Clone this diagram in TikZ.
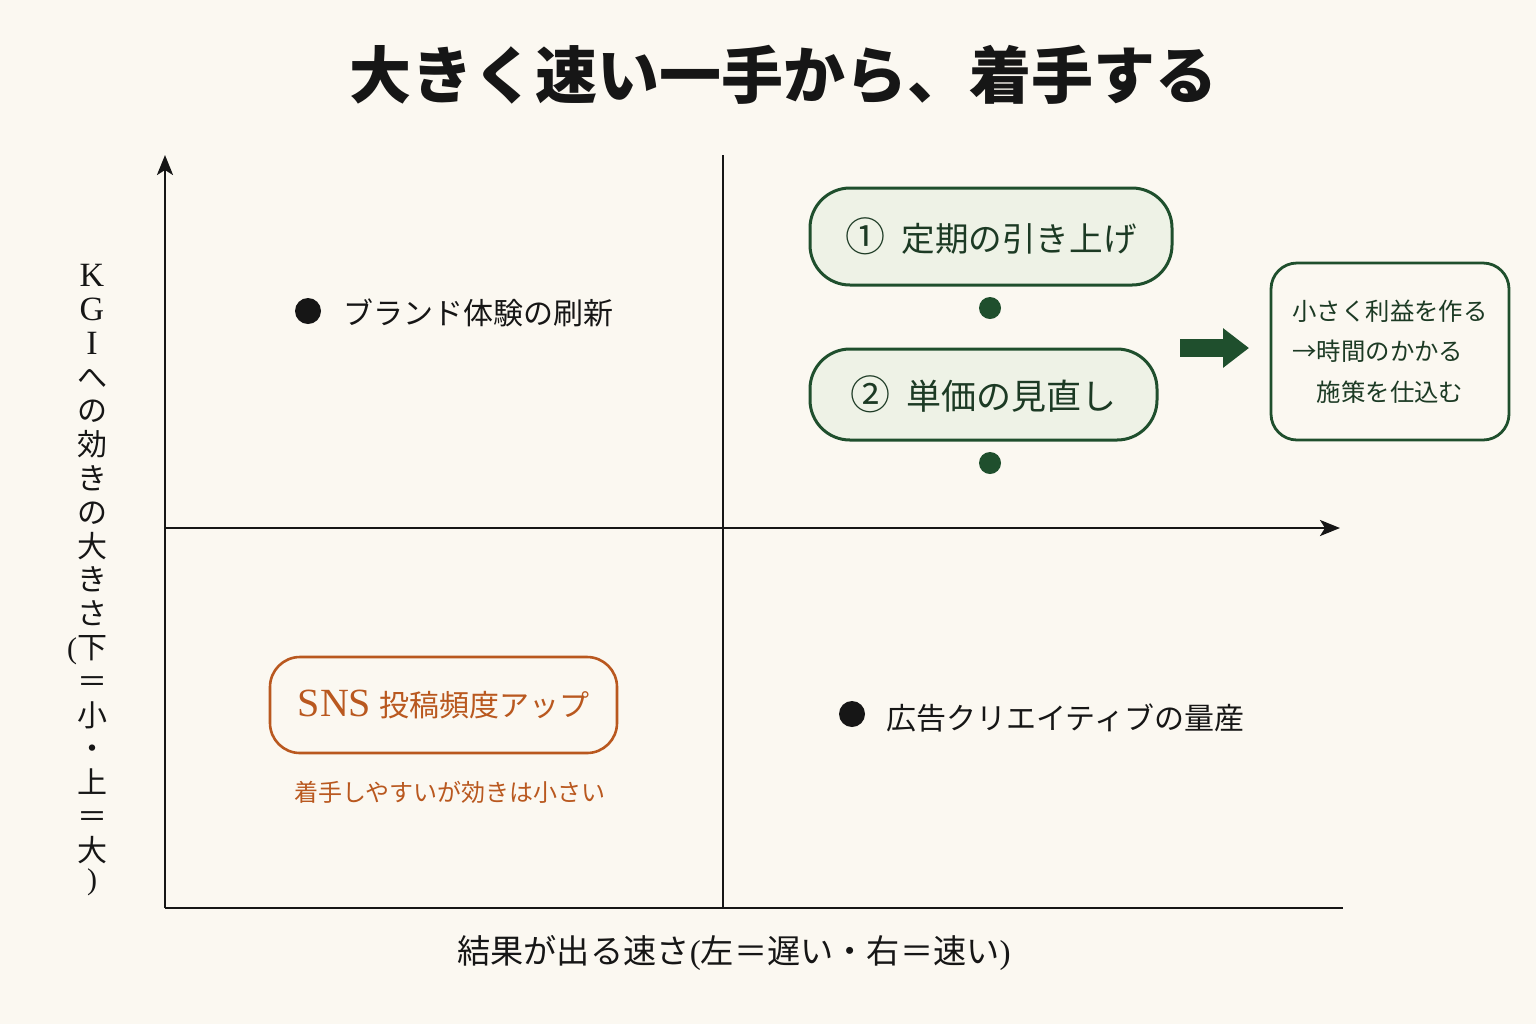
\documentclass[tikz,border=0pt]{standalone}
\usepackage{fontspec}
\setmainfont{Liberation Serif}
\newfontfamily\jp{Noto Sans CJK JP}
\usetikzlibrary{arrows.meta}
\definecolor{bg}{HTML}{FBF8F1}
\definecolor{dgreen}{HTML}{1F4F2D}
\definecolor{gtext}{HTML}{1C3A24}
\definecolor{lgreen}{HTML}{EEF2E6}
\definecolor{orng}{HTML}{B9581F}
\definecolor{ink}{HTML}{161616}
\newcommand{\latK}[1]{{\rmfamily\fontsize{17}{16.9}\selectfont #1}}
\tikzset{
  axis/.style={draw=ink, line width=1.3pt},
  axarrow/.style={-{Stealth[length=10pt,width=8pt,inset=2.5pt]}},
  blackdot/.style={circle, fill=ink, inner sep=0pt, minimum size=13pt},
  greendot/.style={circle, fill=dgreen, inner sep=0pt, minimum size=11pt},
  label15/.style={font=\jp\fontsize{15}{18}\selectfont, text=ink, inner sep=0pt},
  gbox/.style={draw=dgreen, line width=1.5pt, fill=lgreen, rounded corners=20pt,
    text=gtext, inner sep=0pt},
  rbox/.style={draw=dgreen, line width=1.4pt, fill=bg, rounded corners=13pt,
    text=gtext, inner sep=0pt, align=left, font=\jp\fontsize{12.2}{20.3}\selectfont},
  obox/.style={draw=orng, line width=1.3pt, fill=bg, rounded corners=15pt,
    text=orng, inner sep=0pt},
}
\begin{document}
\begin{tikzpicture}[x=0.5pt,y=-0.5pt]
\fill[bg] (0,0) rectangle (1536,1024);
\useasboundingbox (0,0) rectangle (1536,1024);

% title
\node[font=\jp\bfseries\fontsize{31}{36}\selectfont, text=ink] (title) at (783,75) {大きく速い一手から、着手する};

% axes
\coordinate (O) at (165,908);
\coordinate (Ytop) at (165,155);
\coordinate (Xend) at (1343,908);
\coordinate (ML) at (165,528);
\coordinate (MR) at (1340,528);
\coordinate (VT) at (723,155);
\coordinate (VB) at (723,908);
\draw[axis, axarrow] (O) -- (Ytop);
\draw[axis] (O) -- (Xend);
\draw[axis, axarrow] (ML) -- (MR);
\draw[axis] (VB) -- (VT);

% y-axis label
\node[font=\jp\fontsize{15}{16.9}\selectfont, text=ink, align=center, inner sep=0pt] (ylab) at (92,580)
 {\latK{K}\\\latK{G}\\\latK{I}\\へ\\の\\効\\き\\の\\大\\き\\さ\\\llap{\rmfamily(}下\\＝\\小\\・\\上\\＝\\大\\[-3pt]{\rmfamily)}};

% x-axis label
\node[font=\jp\fontsize{16.6}{18}\selectfont, text=ink, inner sep=0pt] (xlab) at (734,953)
 {結果が出る速さ{\rmfamily(}左＝遅い・右＝速い{\rmfamily)}};

% top-left quadrant
\node[blackdot] (d1) at (308,311) {};
\node[label15, anchor=west] (t1) at (343,313) {ブランド体験の刷新};

% bottom-right quadrant
\node[blackdot] (d2) at (852,714) {};
\node[label15, anchor=west] (t2) at (886,718) {広告クリエイティブの量産};

% green boxes
\node[gbox, minimum width=181pt, minimum height=48.5pt] (g1) at (991,236.5)
 {\jp{\fontsize{20}{20}\selectfont ①}\hspace{8pt}\fontsize{16.8}{18}\selectfont 定期の引き上げ};
\node[greendot] (gd1) at (990,308) {};
\node[gbox, minimum width=173.5pt, minimum height=45.5pt] (g2) at (983.5,394.5)
 {\jp{\fontsize{20}{20}\selectfont ②}\hspace{8pt}\fontsize{17.5}{18}\selectfont 単価の見直し};
\node[greendot] (gd2) at (990,463) {};

% right box and thick arrow
\node[rbox, minimum width=119pt, minimum height=88.5pt] (r) at (1390,351.5)
 {小さく利益を作る\\→時間のかかる\\　施策を仕込む};
\coordinate (as) at (1180,348);
\coordinate (ae) at (1249,348);
\draw[dgreen, line width=9pt, -{Triangle[length=13pt,width=19pt]}] (as) -- (ae);

% orange box
\node[obox, minimum width=173.5pt, minimum height=48pt] (o) at (443.5,705)
 {{\rmfamily\fontsize{20}{20}\selectfont SNS}\hspace{4pt}{\jp\fontsize{15}{18}\selectfont 投稿頻度アップ}};
\node[font=\jp\fontsize{12}{14}\selectfont, text=orng, inner sep=0pt] (onote) at (450,792) {着手しやすいが効きは小さい};
\end{tikzpicture}
\end{document}
